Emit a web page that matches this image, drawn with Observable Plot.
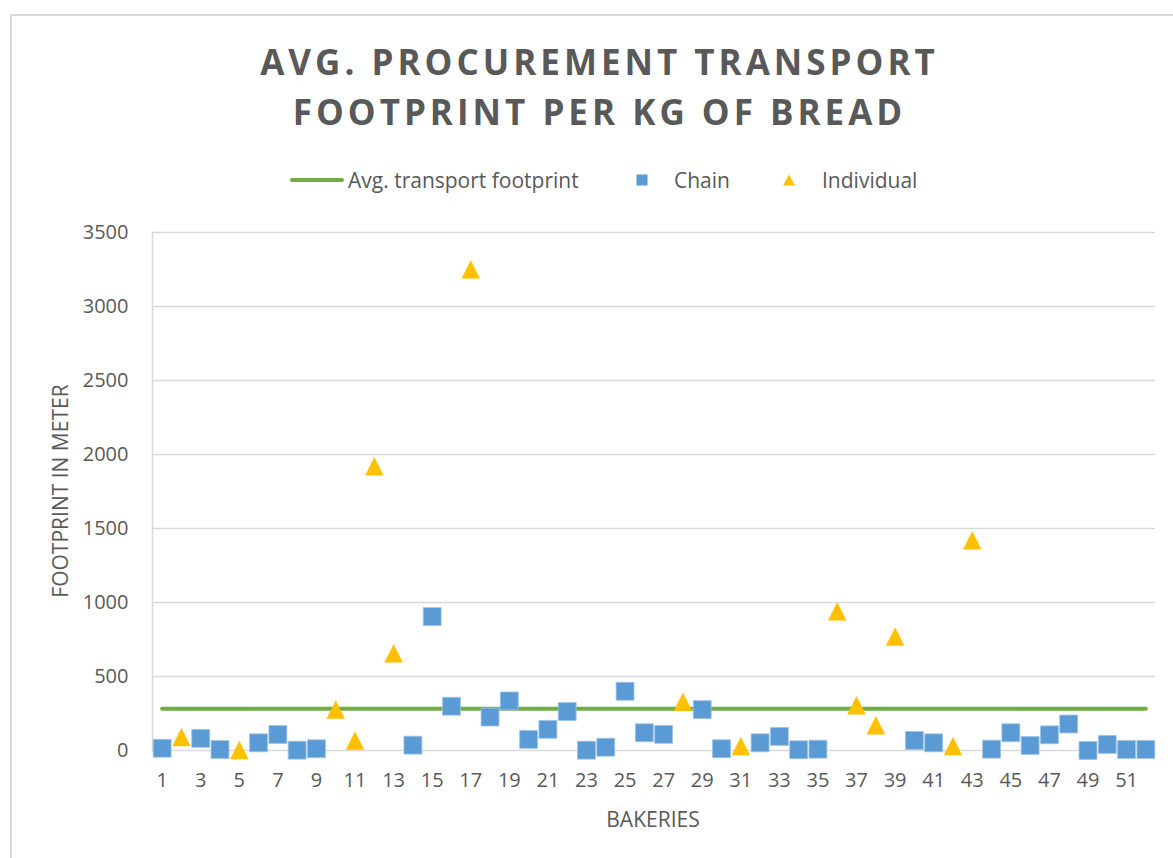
<!DOCTYPE html>
<html>
<head>
<meta charset="utf-8">
<script src="https://cdn.jsdelivr.net/npm/d3@7"></script>
<script src="https://cdn.jsdelivr.net/npm/@observablehq/plot@0.6"></script>
<style>
  html, body { margin: 0; padding: 0; background: #fff; }
  body { width: 1173px; height: 858px; overflow: hidden; position: relative; font-family: "Open Sans", sans-serif; color: #595959; }
  #border { position: absolute; left: 10px; top: 14px; width: 1300px; height: 1000px; border-left: 2px solid #D9D9D9; border-top: 2px solid #D9D9D9; box-sizing: border-box; }
  #title { position: absolute; left: 0; width: 1199px; top: 37px; text-align: center; font-weight: 700; font-size: 35px; line-height: 50px; letter-spacing: 4px; color: #595959; }
  #legend { position: absolute; top: 168px; left: 0; width: 1173px; height: 24px; font-size: 21px; }
  .lg { position: absolute; top: 0; display: flex; align-items: center; height: 24px; white-space: nowrap; }
  #chart { position: absolute; left: 0; top: 200px; }
  .axlabel { position: absolute; font-size: 21px; color: #595959; white-space: nowrap; transform: translate(-50%, -50%); }
</style>
</head>
<body>
<div id="border"></div>
<div id="title">AVG. PROCUREMENT TRANSPORT<br>FOOTPRINT PER KG OF BREAD</div>
<div id="legend"></div>
<div id="chart"></div>
<div class="axlabel" style="left:653px; top:819px;">BAKERIES</div>
<div class="axlabel" style="left:60px; top:491px; transform: translate(-50%,-50%) rotate(-90deg);">FOOTPRINT IN METER</div>
<script>
// ---- data ----
const bakeries = d3.range(1, 53);
const chainBakeries = [1, 3, 4, 6, 7, 8, 9, 14, 15, 16, 18, 19, 20, 21, 22, 23, 24, 25, 26, 27, 29, 30, 32, 33, 34, 35, 40, 41, 44, 45, 46, 47, 48, 49, 50, 51, 52];
const chainValues = [15, 82, 7, 52, 108, 2, 12, 36, 905, 299, 226, 335, 75, 143, 263, 2, 22, 400, 120, 109, 276, 12, 52, 95, 5, 9, 68, 52, 9, 120, 34, 106, 179, 0, 41, 7, 7];
const individualBakeries = [2, 5, 10, 11, 12, 13, 17, 28, 31, 36, 37, 38, 39, 42, 43];
const individualValues = [90, 3, 276, 66, 1920, 656, 3250, 328, 29, 940, 305, 170, 770, 29, 1420];
const avgFootprint = 282;
const yTicks = [0, 500, 1000, 1500, 2000, 2500, 3000, 3500];
const xTickLabels = bakeries.filter(d => d % 2 === 1);
const seriesNames = ["Avg. transport footprint", "Chain", "Individual"];

// ---- colours ----
const green = "#70AD47", blue = "#5B9BD5", gold = "#FFC000";

const chain = chainBakeries.map((b, i) => ({bakery: b, value: chainValues[i]}));
const individual = individualBakeries.map((b, i) => ({bakery: b, value: individualValues[i]}));
const avgLine = bakeries.map(b => ({bakery: b, value: avgFootprint}));

// custom symbols (centred on bounding box, like Excel markers)
const sq = {draw(ctx, size) { const s = Math.sqrt(size); ctx.moveTo(-s/2, -s/2); ctx.lineTo(s/2, -s/2); ctx.lineTo(s/2, s/2); ctx.lineTo(-s/2, s/2); ctx.closePath(); }};
const tri = {draw(ctx, size) { const s = Math.sqrt(size); ctx.moveTo(0, -s/2); ctx.lineTo(s/2, s/2); ctx.lineTo(-s/2, s/2); ctx.closePath(); }};

const chart = Plot.plot({
  width: 1173,
  height: 658,
  marginLeft: 152,
  marginRight: 18,
  marginTop: 32,
  marginBottom: 108,
  style: {fontFamily: "Open Sans, sans-serif", fontSize: "20px", color: "#595959", background: "transparent"},
  x: {type: "point", domain: bakeries, padding: 0.5, round: false},
  y: {domain: [0, 3500]},
  marks: [
    Plot.gridY(yTicks, {stroke: "#D9D9D9", strokeOpacity: 1, strokeWidth: 1.5}),
    Plot.frame({anchor: "left", stroke: "#D9D9D9", strokeWidth: 1.5}),
    Plot.axisY(yTicks, {tickSize: 0, tickPadding: 24, label: null, fill: "#595959", tickFormat: d => String(d)}),
    Plot.axisX(xTickLabels, {tickSize: 0, tickPadding: 22, label: null, fill: "#595959"}),
    Plot.lineY(avgLine, {x: "bakery", y: "value", stroke: green, strokeWidth: 4, strokeLinecap: "round"}),
    Plot.dot(chain, {x: "bakery", y: "value", symbol: sq, r: 10.1, fill: blue, stroke: "#9DC3E6", strokeWidth: 0.8}),
    Plot.dot(individual, {x: "bakery", y: "value", symbol: tri, r: 10, fill: gold, stroke: gold, strokeWidth: 0.5})
  ]
});
document.getElementById("chart").appendChild(chart);

// ---- legend ----
const legend = document.getElementById("legend");
const items = [
  {name: seriesNames[0], left: 290, sw: `<svg width="54" height="24"><line x1="2" y1="12" x2="52" y2="12" stroke="${green}" stroke-width="4" stroke-linecap="round"/></svg>`, gap: 4},
  {name: seriesNames[1], left: 636, sw: `<svg width="13" height="24"><rect x="0.5" y="6.5" width="11" height="11" fill="${blue}"/></svg>`, gap: 25},
  {name: seriesNames[2], left: 782, sw: `<svg width="14" height="24"><path d="M7,6.5 L13,17.5 L1,17.5 Z" fill="${gold}"/></svg>`, gap: 26}
];
for (const it of items) {
  const d = document.createElement("div");
  d.className = "lg";
  d.style.left = it.left + "px";
  d.innerHTML = it.sw + `<span style="margin-left:${it.gap}px">${it.name}</span>`;
  legend.appendChild(d);
}
</script>
</body>
</html>
